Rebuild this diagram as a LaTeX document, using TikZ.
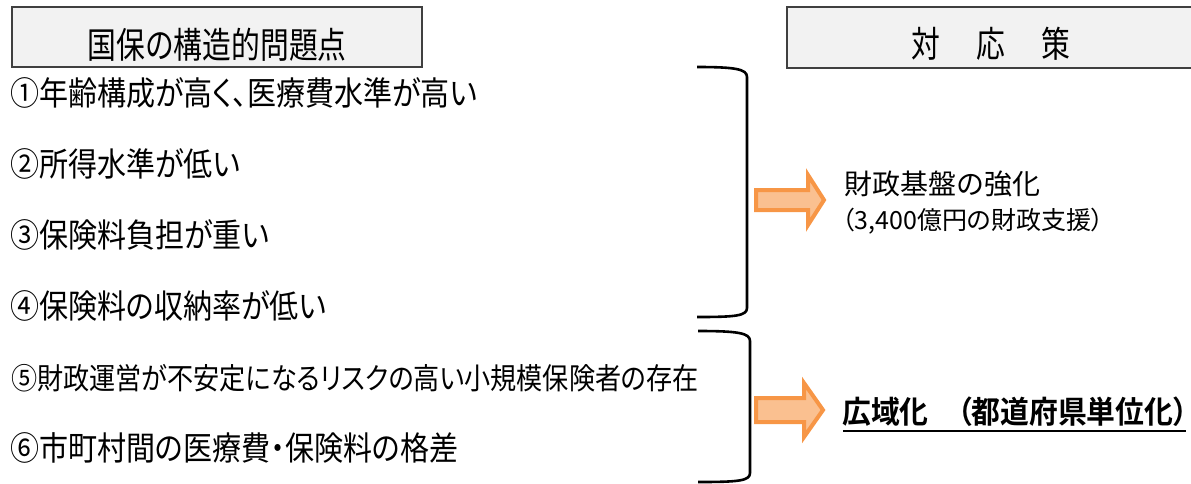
\documentclass[tikz,border=0pt]{standalone}
\usepackage{fontspec}
\newfontfamily\jpc[FakeStretch=0.88, RawFeature=+palt]{Noto Sans CJK JP}
\newfontfamily\jph[FakeStretch=0.8]{Noto Sans CJK JP}
\newfontfamily\jpn{Noto Sans CJK JP}
\newfontfamily\jps[RawFeature=+palt]{Noto Sans CJK JP}
\newfontfamily\jpb[FakeStretch=0.93, RawFeature=+palt]{Noto Sans CJK JP Bold}
\definecolor{hdrfill}{HTML}{F2F2F2}
\definecolor{hdrline}{HTML}{404040}
\definecolor{arrline}{HTML}{F79646}
\definecolor{arrfill}{HTML}{FAC090}
\tikzset{
  hdrbox/.style={draw=hdrline, fill=hdrfill, line width=1.6pt},
  hdrtext/.style={inner sep=0pt, font=\jph\fontsize{36}{36}\selectfont},
  item/.style={anchor=west, inner sep=0pt, font=\jpc\fontsize{33}{33}\selectfont},
  smallitem/.style={item, font=\jpc\fontsize{29.7}{29.7}\selectfont},
  restext/.style={anchor=west, inner sep=0pt, font=\jpn\fontsize{28}{28}\selectfont},
  subtext/.style={anchor=west, inner sep=0pt, font=\jps\fontsize{25}{25}\selectfont},
  boldtext/.style={inner sep=0pt, font=\jpb\fontsize{31}{31}\selectfont},
  bracket/.style={line width=2.6pt, black},
  blockarrow/.style={draw=arrline, fill=arrfill, line width=4pt, line join=miter},
}
\begin{document}
\begin{tikzpicture}[x=1pt, y=-1pt]
\useasboundingbox (0,0) rectangle (1191,483);
% header boxes
\draw[hdrbox] (12,7) rectangle (422,67);
\node[hdrtext] (h1) at (217,45) {国保の構造的問題点};
\draw[hdrbox] (787,7) rectangle (1200,68);
\node[hdrtext] (h2) at (991,44) {対\hspace{36pt}応\hspace{36pt}策};
% items
\node[item] (i1) at (10,93)  {①年齢構成が高く、医療費水準が高い};
\node[item] (i2) at (10,164) {②所得水準が低い};
\node[item] (i3) at (10,235) {③保険料負担が重い};
\node[item] (i4) at (10,306) {④保険料の収納率が低い};
\node[smallitem] (i5) at (11,378) {⑤財政運営が不安定になるリスクの高い小規模保険者の存在};
\node[item] (i6) at (10,448) {⑥市町村間の医療費・保険料の格差};
% brackets
\draw[bracket] (697,67) .. controls (735,67) and (747,69) .. (747,77) -- (747,308) .. controls (747,316) and (735,317) .. (697,317);
\draw[bracket] (698,331) .. controls (738,331) and (750,333) .. (750,341) -- (750,473) .. controls (750,481) and (738,482) .. (698,482);
% arrows
\coordinate (a1) at (756,200);
\draw[blockarrow] (a1) ++(0,-10) -- ++(52,0) -- ++(0,-15) -- ++(16,25) -- ++(-16,25) -- ++(0,-15) -- ++(-52,0) -- cycle;
\coordinate (a2) at (756,410);
\draw[blockarrow] (a2) ++(0,-12) -- ++(48,0) -- ++(0,-15) -- ++(19,27) -- ++(-19,27) -- ++(0,-15) -- ++(-48,0) -- cycle;
% responses
\node[restext] (r1) at (844,184) {財政基盤の強化};
\node[subtext] (r1s) at (842,221) {（3,400億円の財政支援）};
\node[boldtext, anchor=west] (r2a) at (842,412) {広域化};
\node[boldtext, anchor=east] (r2b) at (1188,412) {（都道府県単位化）};
\draw[line width=2pt] (843,431) -- (1186,431);
\end{tikzpicture}
\end{document}
